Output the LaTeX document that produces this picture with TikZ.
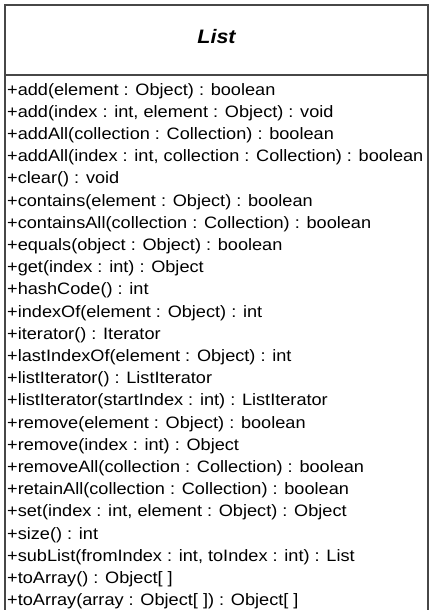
\documentclass[tikz,border=0pt]{standalone}
\usepackage{fontspec}
\setmainfont{Liberation Sans}
\newfontfamily\umlfont[FakeStretch=1.10]{Liberation Sans}
\begin{document}
\begin{tikzpicture}[x=1pt,y=-1pt,
  frame/.style={draw=black!72,line width=1.7pt},
  method/.style={anchor=base west,inner sep=0pt,font=\umlfont\fontsize{16.5}{18}\selectfont},
  title/.style={anchor=base,inner sep=0pt,font=\umlfont\fontsize{19.5}{22}\selectfont\bfseries\itshape}]
\useasboundingbox (0,0) rectangle (433,610);
\clip (0,0) rectangle (433,610);
\fill[white] (0,0) rectangle (433,610);
\draw[frame] (5,616) -- (5,5) -- (428,5) -- (428,616);
\draw[frame] (5,75) -- (428,75);
\node[title] (name) at (216.5,44) {List};
\foreach \t [count=\i from 0] in {
 {+add(element : Object) : boolean},
 {+add(index : int, element : Object) : void},
 {+addAll(collection : Collection) : boolean},
 {+addAll(index : int, collection : Collection) : boolean},
 {+clear() : void},
 {+contains(element : Object) : boolean},
 {+containsAll(collection : Collection) : boolean},
 {+equals(object : Object) : boolean},
 {+get(index : int) : Object},
 {+hashCode() : int},
 {+indexOf(element : Object) : int},
 {+iterator() : Iterator},
 {+lastIndexOf(element : Object) : int},
 {+listIterator() : ListIterator},
 {+listIterator(startIndex : int) : ListIterator},
 {+remove(element : Object) : boolean},
 {+remove(index : int) : Object},
 {+removeAll(collection : Collection) : boolean},
 {+retainAll(collection : Collection) : boolean},
 {+set(index : int, element : Object) : Object},
 {+size() : int},
 {+subList(fromIndex : int, toIndex : int) : List},
 {+toArray() : Object[ ]},
 {+toArray(array : Object[ ]) : Object[ ]}}
 \node[method] (m\i) at (7,{95+22.2*\i}) {\t};
\end{tikzpicture}
\end{document}
